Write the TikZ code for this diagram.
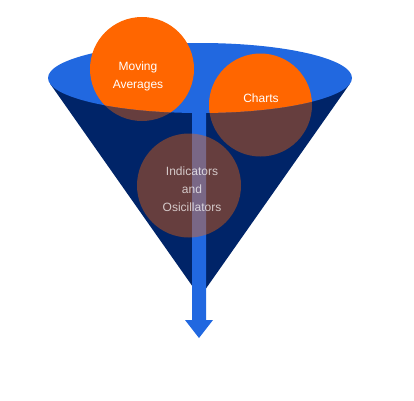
\documentclass[tikz,border=0pt]{standalone}
\usepackage{fontspec}
\setmainfont{Liberation Sans}
\usepackage{xcolor}
\usepackage{tikz}
\definecolor{funnelnavy}{RGB}{0,36,104}
\definecolor{funnelblue}{RGB}{33,104,224}
\definecolor{bubbleorange}{RGB}{255,102,0}
\def\frontarc{(48,322) arc[start angle=180,end angle=360,x radius=152,y radius=35]}
\def\bubbles{(142,331) circle (52) (260.5,295) circle (51.5) (189,214.5) circle (52)}

\begin{document}
\begin{tikzpicture}[x=1pt,y=1pt,
    bubbletext/.style={text=white,align=center,inner sep=0pt,font=\fontsize{12}{18}\selectfont}]
    \useasboundingbox (0,0) rectangle (414,400);
    % funnel
    \fill[funnelnavy] (50,316.4) -- (200,103) coordinate (tip) -- (350,316.4) -- cycle;
    \fill[funnelblue] (200,322) coordinate (mouth) ellipse (152 and 35);
    \fill[funnelblue] (192,290) -- (192,80) -- (185,80) -- (199,62) coordinate (arrowtip) -- (213,80) -- (206,80) -- (206,290) -- cycle;
    % bubbles above the rim
    \begin{scope}
        \clip (0,322) -- \frontarc -- (414,322) -- (414,400) -- (0,400) -- cycle;
        \fill[bubbleorange] \bubbles;
    \end{scope}
    % bubbles seen through the funnel
    \begin{scope}
        \clip (0,322) -- \frontarc -- (414,322) -- (414,0) -- (0,0) -- cycle;
        \fill[bubbleorange,fill opacity=0.4] \bubbles;
    \end{scope}
    \node[bubbletext] (moving) at (138,324) {Moving\\Averages};
    \node[bubbletext] (charts) at (261,302) {Charts};
    \node[bubbletext,text opacity=0.72] (indicators) at (192,210.5) {Indicators\\and\\Osicillators};
\end{tikzpicture}
\end{document}
